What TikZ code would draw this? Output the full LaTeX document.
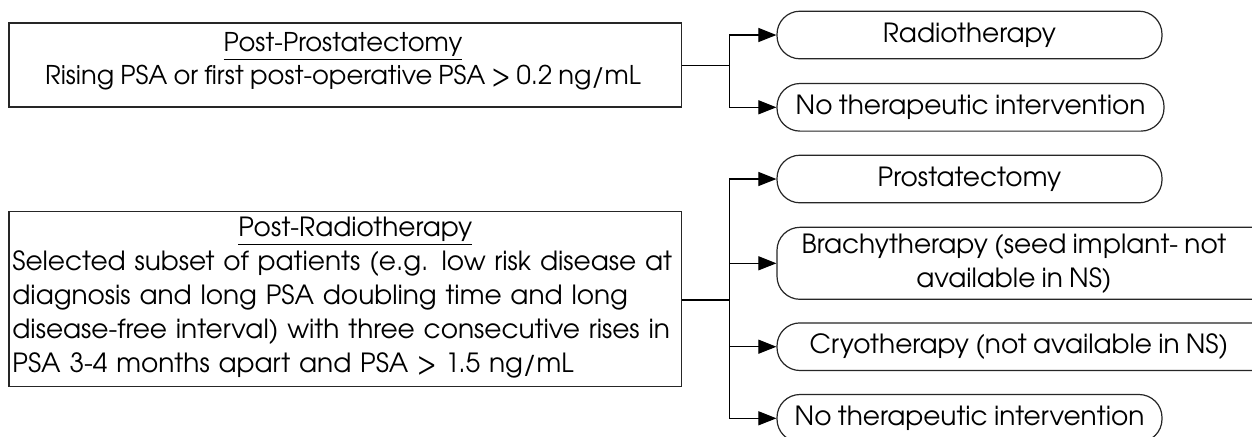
\documentclass[tikz,border=0pt]{standalone}
\usepackage{fontspec}
\setmainfont[WordSpace=0.85]{texgyreadventor-regular.otf}
\usetikzlibrary{arrows.meta}
\begin{document}
\begin{tikzpicture}[x=0.5pt,y=-0.5pt,
  every node/.style={font=\fontsize{13.2}{17}\selectfont, inner sep=0pt},
  sqbox/.style={draw=black!85, line width=0.6pt, rectangle},
  rbox/.style={draw=black!85, line width=0.6pt, rounded corners=11.5pt, minimum height=23.8pt},
  conn/.style={line width=0.55pt, draw=black},
  arr/.style={conn, -{Triangle[length=9pt,width=7pt]}}
]
\useasboundingbox (0,0) rectangle (1252,436);
\clip (0,0) rectangle (1252,436);
\fill[white] (0,0) rectangle (1252,436);

% left boxes
\node[sqbox, minimum width=336.3pt, minimum height=42pt] (pp) at (345.3,65) {};
\node[align=center, font=\fontsize{12.9}{16.5}\selectfont] (pptxt) at (343,61) {\underline{Post-Prostatectomy}\\Rising PSA or first post-operative PSA > 0.2 ng/mL};

\node[sqbox, minimum width=336.3pt, minimum height=87.5pt] (pr) at (345.3,299.3) {};
\node[align=left, anchor=west, text width=340pt] (prtxt) at (12,298) {\makebox[333pt]{\hspace*{10pt}\underline{Post-Radiotherapy}}\\
Selected subset of patients (e.g. low risk disease at\\
diagnosis and long PSA doubling time and long\\
disease-free interval) with three consecutive rises in\\
PSA 3-4 months apart and PSA > 1.5 ng/mL};

% right boxes, top group
\node[rbox, minimum width=192.5pt] (radio) at (969.5,35) {Radiotherapy};
\node[rbox, minimum width=193.5pt] (note1) at (970.5,107.3) {No therapeutic intervention};

% right boxes, bottom group
\node[rbox, minimum width=192.5pt] (prost) at (969.5,179) {Prostatectomy};
\node[rbox, minimum width=256pt, minimum height=36pt] (brachy) at (1033,263.3) {};
\node[align=center] (brachytxt) at (1014,263.3) {Brachytherapy (seed implant- not\\available in NS)};
\node[rbox, minimum width=256pt] (cryo) at (1033,346.7) {};
\node (cryotxt) at (1019,346.7) {Cryotherapy (not available in NS)};
\node[rbox, minimum width=192.5pt] (note2) at (969.5,418.3) {No therapeutic intervention};

% connectors
\coordinate (j1) at (729.3,65.7);
\coordinate (j2) at (729.3,300);
\draw[conn] (pp.east |- j1) -- (j1);
\draw[arr] (j1) |- (radio.west);
\draw[arr] (j1) |- (note1.west);
\draw[conn] (pr.east |- j2) -- (j2);
\draw[arr] (j2) |- (prost.west);
\draw[arr] (j2) |- (brachy.west);
\draw[arr] (j2) |- (cryo.west);
\draw[arr] (j2) |- (note2.west);
\end{tikzpicture}
\end{document}
